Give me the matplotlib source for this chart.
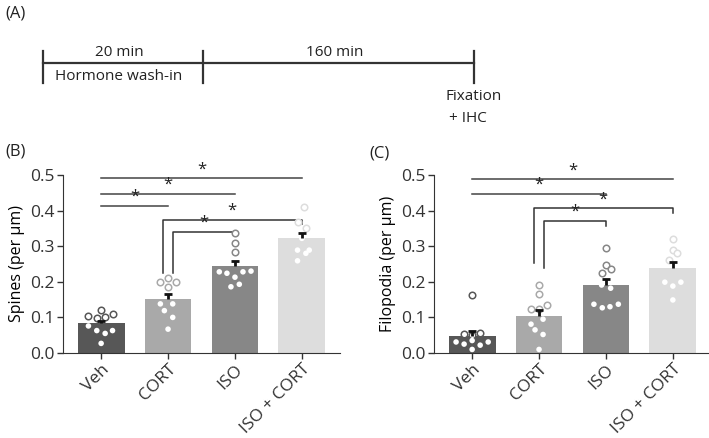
import matplotlib.pyplot as plt
import numpy as np

plt.rcParams['font.family'] = ['Open Sans', 'DejaVu Sans']
plt.rcParams['axes.edgecolor'] = '#333333'
plt.rcParams['xtick.color'] = '#333333'
plt.rcParams['ytick.color'] = '#333333'
plt.rcParams['text.color'] = '#222222'

# data
groups = ["Veh", "CORT", "ISO", "ISO + CORT"]
bar_colors = ["#575757", "#a9a9a9", "#878787", "#dddddd"]

spine_mean = [0.083, 0.153, 0.245, 0.322]
spine_sem = [0.008, 0.014, 0.013, 0.016]
spine_pts = [
    [0.104, 0.098, 0.121, 0.100, 0.110, 0.076, 0.063, 0.055, 0.063, 0.027],
    [0.199, 0.212, 0.186, 0.200, 0.138, 0.138, 0.119, 0.100, 0.067],
    [0.338, 0.308, 0.285, 0.228, 0.224, 0.213, 0.228, 0.230, 0.186, 0.193],
    [0.409, 0.369, 0.350, 0.322, 0.289, 0.280, 0.289, 0.259],
]
spine_jit = [
    [-0.19, -0.065, 0.0, 0.06, 0.17, -0.19, -0.065, 0.06, 0.17, 0.0],
    [-0.12, 0.0, 0.0, 0.125, -0.115, 0.07, -0.055, 0.07, 0.0],
    [0.0, 0.0, 0.0, -0.234, -0.12, 0.0, 0.12, 0.24, -0.06, 0.065],
    [0.03, -0.06, 0.065, 0.0, -0.065, 0.06, 0.11, -0.065],
]

filo_mean = [0.048, 0.105, 0.192, 0.238]
filo_sem = [0.014, 0.016, 0.016, 0.017]
filo_pts = [
    [0.163, 0.053, 0.055, 0.050, 0.031, 0.025, 0.035, 0.022, 0.031, 0.010],
    [0.191, 0.166, 0.123, 0.135, 0.125, 0.081, 0.095, 0.065, 0.052, 0.010],
    [0.296, 0.247, 0.235, 0.224, 0.191, 0.182, 0.137, 0.127, 0.130, 0.137],
    [0.319, 0.289, 0.280, 0.261, 0.199, 0.188, 0.199, 0.149],
]
filo_jit = [
    [0.0, -0.12, 0.12, 0.0, -0.24, -0.12, 0.0, 0.12, 0.24, 0.0],
    [0.0, 0.0, -0.12, 0.12, 0.0, -0.12, 0.06, -0.06, 0.06, 0.0],
    [0.0, 0.0, 0.07, -0.065, -0.065, 0.07, -0.18, -0.055, 0.06, 0.185],
    [0.0, 0.0, 0.06, -0.06, -0.12, 0.0, 0.12, 0.0],
]

# significance: plain lines (i, j, y); brackets (i, j, y, left leg end, right leg end)
spine_lines = [(0, 3, 0.491), (0, 2, 0.448), (0, 1, 0.414)]
spine_brackets = [(1, 3, 0.375, 0.224, 0.362), (1, 2, 0.341, 0.224, 0.330)]
filo_lines = [(0, 3, 0.489), (0, 2, 0.447)]
filo_brackets = [(1, 3, 0.406, 0.252, 0.393), (1, 2, 0.372, 0.238, 0.358)]

# timeline (schematic widths in px)
seg_labels = ["20 min", "160 min"]
seg_widths = [160, 271]
seg_sub = ["Hormone wash-in", ""]

fig = plt.figure(figsize=(7.09, 4.38), dpi=100)

# panel A
axA = fig.add_axes([0, 0, 1, 1])
axA.set_xlim(0, 709)
axA.set_ylim(438, 0)
axA.axis('off')
xs = np.concatenate([[43], 43 + np.cumsum(seg_widths)])
axA.plot([xs[0], xs[-1]], [63, 63], color='#333333', lw=1.6)
for x in xs:
    axA.plot([x, x], [51, 83], color='#333333', lw=1.6)
for k in range(len(seg_labels)):
    mid = (xs[k] + xs[k + 1]) / 2
    axA.text(mid - 4, 52, seg_labels[k], ha='center', va='center', fontsize=11)
    axA.text(mid - 4, 77, seg_sub[k], ha='center', va='center', fontsize=11)
axA.text(xs[-1], 97, "Fixation", ha='center', va='center', fontsize=11)
axA.text(xs[-1] - 6, 118, "+ IHC", ha='center', va='center', fontsize=11)
axA.text(5, 14, "(A)", ha='left', va='center', fontsize=12)
axA.text(5, 151, "(B)", ha='left', va='center', fontsize=12)
axA.text(369, 153, "(C)", ha='left', va='center', fontsize=12)


def panel(ax, means, sems, pts, jit, lines, brackets, ylabel):
    x = np.arange(len(groups))
    ax.bar(x, means, width=0.7, color=bar_colors, zorder=2)
    for i in range(len(groups)):
        p = np.array(pts[i])
        j = x[i] + np.array(jit[i])
        above = p > means[i]
        ax.scatter(j[above], p[above], s=22, facecolor='white',
                   edgecolor=bar_colors[i], linewidth=1.1, zorder=3)
        ax.scatter(j[~above], p[~above], s=16, facecolor='white',
                   edgecolor='none', zorder=3)
    # upper-only error bars
    tops = np.array(means) + np.array(sems)
    ax.vlines(x, means, tops, color='#111111', lw=2, zorder=4)
    ax.hlines(tops, x - 0.065, x + 0.065, color='#111111', lw=2, zorder=4)
    for a, b, y in lines:
        ax.plot([a, b], [y, y], color='#444444', lw=1.1, clip_on=False)
        ax.text((a + b) / 2, y + 0.002, '*', ha='center', va='bottom', fontsize=12)
    for a, b, y, yl, yr in brackets:
        xa = a - 0.08 if b == 3 else a + 0.08
        ax.plot([xa, xa, b, b], [yl, y, y, yr], color='#333333', lw=1.1,
                clip_on=False)
        ax.text((xa + b) / 2, y + 0.002, '*', ha='center', va='bottom', fontsize=12)
    ax.set_xlim(-0.57, 3.57)
    ax.set_ylim(0, 0.5)
    ax.set_yticks([0.0, 0.1, 0.2, 0.3, 0.4, 0.5])
    ax.set_yticklabels(["0.0", "0.1", "0.2", "0.3", "0.4", "0.5"])
    ax.set_xticks(x)
    ax.set_xticklabels(groups, rotation=45, ha='right', rotation_mode='anchor')
    ax.tick_params(axis='both', labelsize=12.5, length=4, width=1, pad=2)
    ax.set_ylabel(ylabel, fontsize=11.5, labelpad=4)
    ax.spines['top'].set_visible(False)
    ax.spines['right'].set_visible(False)


axB = fig.add_axes([63 / 709, 85 / 438, 277 / 709, 178 / 438])
panel(axB, spine_mean, spine_sem, spine_pts, spine_jit, spine_lines,
      spine_brackets, "Spines (per µm)")
axC = fig.add_axes([434 / 709, 85 / 438, 277 / 709, 178 / 438])
panel(axC, filo_mean, filo_sem, filo_pts, filo_jit, filo_lines,
      filo_brackets, "Filopodia (per µm)")

fig.savefig("out.png", dpi=100)
